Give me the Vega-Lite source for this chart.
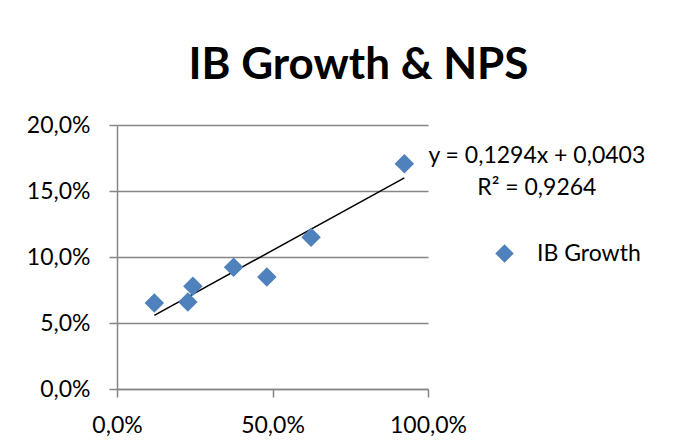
{
  "$schema": "https://vega.github.io/schema/vega-lite/v6.json",
  "width": 311,
  "height": 264,
  "autosize": {"type": "none"},
  "padding": {"left": 117, "top": 125, "right": 269, "bottom": 59},
  "background": "white",
  "title": {
    "text": "IB Growth & NPS",
    "font": "Lato",
    "fontWeight": "bold",
    "fontSize": 44,
    "color": "black",
    "anchor": "middle",
    "frame": "group",
    "dx": 86,
    "offset": 26
  },
  "datasets": {
    "points": [
      {"nps": 0.120, "ib_growth": 0.0652, "series": "IB Growth"},
      {"nps": 0.228, "ib_growth": 0.0659, "series": "IB Growth"},
      {"nps": 0.244, "ib_growth": 0.0778, "series": "IB Growth"},
      {"nps": 0.375, "ib_growth": 0.0922, "series": "IB Growth"},
      {"nps": 0.482, "ib_growth": 0.0848, "series": "IB Growth"},
      {"nps": 0.624, "ib_growth": 0.1149, "series": "IB Growth"},
      {"nps": 0.924, "ib_growth": 0.1707, "series": "IB Growth"}
    ],
    "trend": [
      {"nps": 0.120, "ib_growth": 0.0558},
      {"nps": 0.924, "ib_growth": 0.1599}
    ],
    "trend_label": [
      {"label": ["y = 0,1294x + 0,0403", "R² = 0,9264"]}
    ]
  },
  "layer": [
    {
      "data": {"name": "trend"},
      "mark": {"type": "line", "color": "black", "strokeWidth": 1.5},
      "encoding": {
        "x": {"field": "nps", "type": "quantitative"},
        "y": {"field": "ib_growth", "type": "quantitative"}
      }
    },
    {
      "data": {"name": "points"},
      "mark": {"type": "point", "shape": "diamond", "filled": true, "size": 380, "opacity": 1},
      "encoding": {
        "x": {
          "field": "nps",
          "type": "quantitative",
          "scale": {"domain": [0, 1], "nice": false, "zero": true},
          "axis": {
            "values": [0, 0.5, 1],
            "format": ".1%",
            "grid": false,
            "title": null,
            "labelFlush": false,
            "labelOverlap": false,
            "labelPadding": 17
          }
        },
        "y": {
          "field": "ib_growth",
          "type": "quantitative",
          "scale": {"domain": [0, 0.2], "nice": false},
          "axis": {
            "values": [0, 0.05, 0.1, 0.15, 0.2],
            "format": ".1%",
            "grid": true,
            "title": null,
            "labelFlush": false,
            "labelOverlap": false,
            "labelPadding": 19
          }
        },
        "color": {
          "field": "series",
          "type": "nominal",
          "scale": {"domain": ["IB Growth"], "range": ["#4F81BD"]},
          "legend": {
            "title": null,
            "orient": "none",
            "legendX": 376,
            "legendY": 117,
            "padding": 0,
            "symbolType": "diamond",
            "symbolSize": 340,
            "symbolStrokeWidth": 0,
            "labelOffset": 21,
            "labelFont": "Lato",
            "labelFontSize": 23,
            "labelColor": "black"
          }
        }
      }
    },
    {
      "data": {"name": "trend_label"},
      "mark": {
        "type": "text",
        "font": "Lato",
        "fontSize": 23,
        "color": "black",
        "align": "center",
        "baseline": "alphabetic",
        "lineHeight": 32
      },
      "encoding": {
        "x": {"datum": 1.35},
        "y": {"datum": 0.1714},
        "text": {"field": "label"}
      }
    }
  ],
  "config": {
    "locale": {
      "number": {"decimal": ",", "thousands": ".", "grouping": [3], "currency": ["", " €"]}
    },
    "view": {"stroke": null},
    "axis": {
      "domainColor": "#868686",
      "domainWidth": 1.5,
      "tickColor": "#868686",
      "tickWidth": 1.5,
      "tickSize": 8,
      "gridColor": "#868686",
      "gridWidth": 1.5,
      "labelFont": "Lato",
      "labelFontSize": 23,
      "labelColor": "black"
    }
  }
}
